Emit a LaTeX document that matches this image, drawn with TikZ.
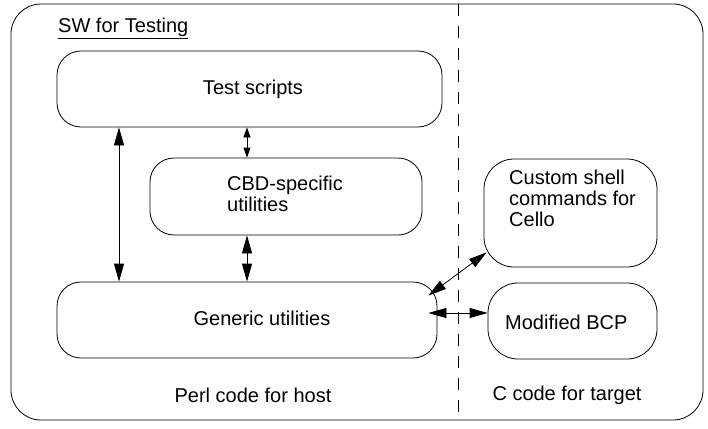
\documentclass[tikz,border=0pt]{standalone}
\usepackage{fontspec}
\setmainfont{Liberation Sans}
\usetikzlibrary{arrows.meta,calc}

\tikzset{
  swbox/.style={draw, line width=0.8pt, rounded corners=24pt, inner sep=0pt},
  swtext/.style={inner sep=0pt, align=left, font=\fontsize{20}{21}\selectfont},
  link/.style={line width=0.8pt, {Triangle[length=18pt,width=10pt]}-{Triangle[length=18pt,width=10pt]}},
  shortlink/.style={line width=0.8pt, {Triangle[length=10pt,width=7pt]}-{Triangle[length=10pt,width=7pt]}}
}

\begin{document}
\begin{tikzpicture}[x=1pt,y=1pt,yscale=-1]
	\useasboundingbox (0,0) rectangle (708,428);
	
	%Shape: Outer frame
	\draw [line width=0.8pt, rounded corners=30pt] (11,4) rectangle (703,420);
	%Straight Lines: host / target split
	\draw [line width=0.8pt, dash pattern=on 12pt off 10pt] (458,4) -- (458,420);
	
	%Shape: boxes
	\node [swbox, minimum width=385pt, minimum height=76pt] (tests) at (249.5,89) {};
	\node [swbox, minimum width=272pt, minimum height=77pt] (cbd) at (286,196.5) {};
	\node [swbox, minimum width=380pt, minimum height=76pt] (gen) at (247,320) {};
	\node [swbox, rounded corners=30pt, minimum width=173pt, minimum height=108pt] (cust) at (570.5,213) {};
	\node [swbox, rounded corners=30pt, minimum width=169pt, minimum height=76pt] (bcp) at (572.5,321) {};
	
	% Text Node
	\node [swtext, anchor=west] (title) at (58,28) {\underline{SW for Testing}};
	\node [swtext] (teststext) at (253,89) {Test scripts};
	\node [swtext, anchor=west] (cbdtext) at (227,194) {CBD-specific\\utilities};
	\node [swtext] (gentext) at (262,318) {Generic utilities};
	\node [swtext, anchor=north west] (custtext) at (509,170) {Custom shell\\commands for\\Cello};
	\node [swtext, anchor=west] (bcptext) at (505,322) {Modified BCP};
	\node [swtext] (host) at (253,395) {Perl code for host};
	\node [swtext] (target) at (567,395) {C code for target};
	
	%Straight Lines: links
	\coordinate (lv) at (119,0);
	\coordinate (mv) at (247,0);
	\draw [link] (lv |- tests.south) -- (lv |- gen.north);
	\draw [shortlink] (mv |- tests.south) -- (mv |- cbd.north);
	\draw [link] (mv |- cbd.south) -- (mv |- gen.north);
	\draw [link] ($(gen.north east)+(-9,14)$) -- ($(cust.south west)+(3,-15)$);
	\draw [link] ($(gen.east)+(-9,-7)$) -- ($(bcp.west)+(0,-8)$);
\end{tikzpicture}
\end{document}
